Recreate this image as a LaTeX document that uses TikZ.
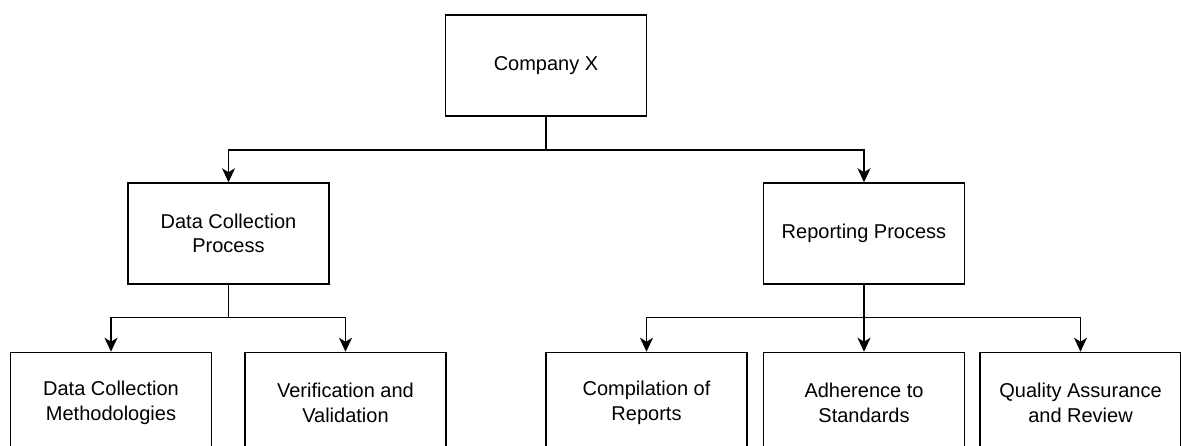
\documentclass[tikz,border=0pt]{standalone}
\usepackage{fontspec}
\setmainfont{Liberation Sans}
\usetikzlibrary{arrows.meta}
\begin{document}
\begin{tikzpicture}[x=1pt,y=-1pt,
  box/.style={draw=black, line width=1.5pt, fill=white, minimum width=201pt,
    minimum height=101pt, align=center, inner sep=0pt,
    font=\fontsize{20pt}{24.5pt}\selectfont},
  link/.style={draw=black, line width=1.5pt},
  arr/.style={link, -{Stealth[length=14pt, width=13pt, inset=4pt]}}]
\useasboundingbox (0,0) rectangle (1181,446);
\clip (0,0) rectangle (1181,446);

% top level
\node[box] (cx) at (546,65.5) {Company X};

% second level
\node[box] (dcp) at (228.5,233.5) {Data Collection\\Process};
\node[box] (rp) at (864,233.5) {Reporting Process};

% third level (boxes run past the lower edge)
\node[box] (dcm) at (111,403) {Data Collection\\Methodologies};
\node[box] (vv) at (345.5,403) {Verification and\\Validation};
\node[box] (cr) at (646.5,403) {Compilation of\\Reports};
\node[box] (as) at (864,403) {Adherence to\\Standards};
\node[box] (qa) at (1080.5,403) {Quality Assurance\\and Review};

% junction points of the orthogonal connectors
\coordinate (j1) at (546,150);
\coordinate (j2) at (228.5,317.5);
\coordinate (j3) at (864,317.5);

% shared trunks
\draw[link] (cx.south) -- (j1);
\draw[link] (dcp.south) -- (j2);

% branches
\draw[arr] (j1) -| (dcp.north);
\draw[arr] (j1) -| (rp.north);

\draw[arr] (j2) -| (dcm.north);
\draw[arr] (j2) -| (vv.north);

\draw[arr] (rp.south) -- (as.north);
\draw[arr] (j3) -| (cr.north);
\draw[arr] (j3) -| (qa.north);
\end{tikzpicture}
\end{document}
